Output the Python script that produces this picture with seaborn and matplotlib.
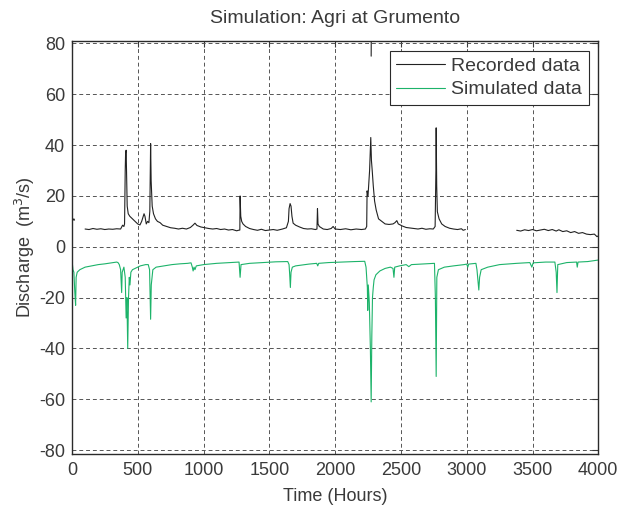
import numpy as np
import pandas as pd
import seaborn as sns
import matplotlib.pyplot as plt

# recorded discharge (segments split where data is missing)
rec_seg1_x = [0, 5, 10, 15, 20]
rec_seg1_y = [10, 11, 10.5, 11, 10.5]

rec_seg2_x = [100, 130, 160, 190, 220, 250, 280, 310, 340, 370, 385, 395, 400, 405, 408, 412,
              416, 420, 428, 440, 460, 480, 500, 517, 530, 548, 555, 565, 575, 585, 592, 598,
              602, 610, 620, 635, 650, 670, 690, 720, 750, 780, 810, 840, 870, 900, 920, 935,
              950, 980, 1010, 1040, 1070, 1100, 1130, 1160, 1190, 1220, 1252, 1265, 1276, 1278,
              1283, 1290, 1300, 1320, 1350, 1380, 1410, 1440, 1470, 1500, 1530, 1560, 1600, 1630,
              1645, 1650, 1658, 1665, 1672, 1681, 1700, 1730, 1760, 1790, 1820, 1850, 1862, 1866,
              1870, 1880, 1910, 1940, 1970, 1985, 2000, 2040, 2080, 2120, 2160, 2200, 2230, 2240,
              2243, 2250, 2262, 2271, 2276, 2282, 2290, 2300, 2312, 2330, 2355, 2380, 2410, 2440,
              2455, 2469, 2480, 2510, 2540, 2570, 2600, 2630, 2660, 2690, 2720, 2746, 2760, 2766,
              2768, 2772, 2777, 2790, 2810, 2836, 2870, 2900, 2930, 2960, 2973, 2990]
rec_seg2_y = [7, 6.8, 7.2, 6.9, 7.1, 6.8, 7.0, 6.9, 7.1, 7.0, 8.5, 8.0, 9, 30, 37, 38,
              28, 16, 13, 12, 11, 10, 9, 8.6, 10, 13, 12, 9, 10, 9.5, 14, 40.6,
              26, 16, 13, 11, 10, 9.5, 8.5, 8, 7.5, 7.3, 7.0, 7.3, 7, 7.6, 8.5, 9.3,
              8.4, 7.8, 7.5, 7.2, 7.0, 7.2, 6.8, 7.0, 6.6, 6.8, 6.3, 6.5, 6.6, 20,
              12, 10, 9, 8, 7.2, 6.8, 6.5, 6.9, 6.4, 6.6, 6.8, 6.5, 7.0, 7.5,
              10, 15, 17, 16, 12, 9.3, 8.5, 7.8, 7.2, 7.0, 7.1, 6.8, 7, 15,
              9, 8, 7.0, 6.8, 7.2, 8, 7.0, 6.8, 7.1, 6.7, 7.0, 6.8, 7.0, 8,
              22, 20, 30, 43, 34, 30, 24, 18, 14.5, 11, 10, 9, 8.8, 9,
              9.5, 10.3, 9, 8.2, 7.6, 7.4, 7.2, 7.0, 7.3, 6.9, 7.1, 7, 8, 30,
              46.8, 24, 13.8, 11, 9, 8, 7.3, 7.0, 6.8, 7.1, 6.5, 6.8]

rec_seg3_x = [2274, 2276]
rec_seg3_y = [75, 95]

rec_seg4_x = [3380, 3410, 3440, 3470, 3500, 3530, 3560, 3590, 3620, 3650, 3680, 3700, 3730,
              3760, 3790, 3820, 3850, 3880, 3910, 3940, 3970, 3990, 4000]
rec_seg4_y = [6.5, 6.2, 6.7, 6.4, 6.8, 6.3, 6.6, 6.9, 6.4, 6.8, 6.2, 6.7, 6.0,
              6.3, 5.6, 6.0, 5.3, 5.6, 5.0, 4.8, 5.0, 4.0, 4.3]

# simulated discharge (plotted negative in the original)
sim_x = [0, 8, 15, 22, 28, 32, 40, 60, 100, 150, 200, 250, 300, 340, 350, 360, 370, 378, 382,
         395, 405, 412, 418, 424, 430, 436, 441, 448, 460, 480, 520, 560, 580, 590, 598, 603,
         615, 640, 700, 760, 820, 880, 905, 915, 921, 928, 935, 945, 1000, 1100, 1200, 1270,
         1274, 1278, 1285, 1350, 1450, 1550, 1640, 1650, 1655, 1660, 1665, 1675, 1700, 1800,
         1860, 1868, 1875, 1950, 2050, 2150, 2225, 2235, 2245, 2248, 2252, 2260, 2268, 2274,
         2279, 2284, 2290, 2296, 2310, 2340, 2380, 2420, 2440, 2447, 2453, 2490, 2540, 2560,
         2580, 2650, 2720, 2755, 2762, 2768, 2773, 2785, 2830, 2900, 2980, 3000, 3008, 3015,
         3070, 3078, 3085, 3092, 3098, 3110, 3160, 3250, 3380, 3480, 3495, 3505, 3600, 3670,
         3680, 3686, 3692, 3760, 3835, 3840, 3846, 3920, 4000]
sim_y = [-5, -9, -10, -18, -23, -12, -10, -9, -8, -7.5, -7, -6.7, -6.3, -6, -6.2, -7, -9, -18, -10,
         -8, -12, -28, -20, -40, -20, -12, -15, -10, -9, -8.5, -7.5, -7, -7, -9, -28.5, -15,
         -9, -8, -7.5, -7, -6.7, -6.5, -6.3, -8, -9.5, -8, -9, -7.5, -7, -6.5, -6.2, -6,
         -9, -12, -7, -6.5, -6.2, -5.9, -5.8, -7, -11, -16, -10, -8, -7.5, -6.8,
         -6.5, -7.5, -6.5, -6.2, -6, -5.8, -5.7, -8, -16, -25, -15, -22, -40, -61,
         -35, -20, -16, -13, -11, -9.5, -8.5, -8, -8.5, -12, -8, -7.5, -7, -7.8,
         -7, -6.8, -6.6, -6.5, -20, -51, -12, -9, -8, -7.5, -7, -6.8, -8, -6.8,
         -6.5, -9, -13, -17, -12, -9, -8, -7, -6.5, -6.2, -8, -6.3, -6, -6,
         -10, -18, -7, -6.2, -6, -8, -6, -5.8, -5.2]

x_ticks = list(range(0, 4001, 500))
y_ticks = list(range(-80, 81, 20))

frames = []
for i, (xs, ys) in enumerate([(rec_seg1_x, rec_seg1_y), (rec_seg2_x, rec_seg2_y),
                              (rec_seg3_x, rec_seg3_y), (rec_seg4_x, rec_seg4_y)]):
    frames.append(pd.DataFrame({"t": xs, "q": ys, "series": "Recorded data", "seg": i}))
frames.append(pd.DataFrame({"t": sim_x, "q": sim_y, "series": "Simulated data", "seg": 10}))
df = pd.concat(frames, ignore_index=True)

sns.set_theme(style="white")
plt.rcParams['font.family'] = ['Liberation Sans', 'DejaVu Sans']
plt.rcParams['axes.unicode_minus'] = False

txt = "#3a3a3a"
fig = plt.figure(figsize=(6.2, 5.05), dpi=100)
ax = fig.add_axes([0.116, 0.101, 0.849, 0.818])

sns.lineplot(data=df, x="t", y="q", hue="series", units="seg", estimator=None,
             palette={"Recorded data": "#222222", "Simulated data": "#1db36a"},
             linewidth=0.8, sort=False, ax=ax, legend=False)

ax.set_xlim(0, 4000)
ax.set_ylim(-81.5, 81)
ax.set_xticks(x_ticks)
ax.set_yticks(y_ticks)
ax.tick_params(direction="in", top=True, right=True, length=4, width=0.8,
               labelsize=13, colors=txt)
ax.tick_params(axis="x", pad=6)
ax.tick_params(axis="y", pad=5)
ax.grid(True, color="#555555", linestyle=(0, (4, 3)), linewidth=0.7)
for s in ax.spines.values():
    s.set_color("#2a2a2a")
    s.set_linewidth(1)

ax.set_title("Simulation: Agri at Grumento", fontsize=14, color=txt, pad=13)
ax.set_xlabel("Time (Hours)", fontsize=13, color=txt, labelpad=6)
ax.set_ylabel("Discharge  (m$^3$/s)", fontsize=13, color=txt, labelpad=1)

h1, = ax.plot([], [], color="#222222", lw=0.8)
h2, = ax.plot([], [], color="#1db36a", lw=0.8)
leg = ax.legend([h1, h2], ["Recorded data", "Simulated data"], loc="upper right",
                fontsize=14, frameon=True, fancybox=False, framealpha=1,
                edgecolor="#2a2a2a", handlelength=2.5, borderaxespad=0.5,
                borderpad=0.35, labelspacing=0.3, handletextpad=0.3)
leg.get_frame().set_linewidth(0.8)
for t in leg.get_texts():
    t.set_color(txt)

fig.savefig("out.png", dpi=100, facecolor="white")
